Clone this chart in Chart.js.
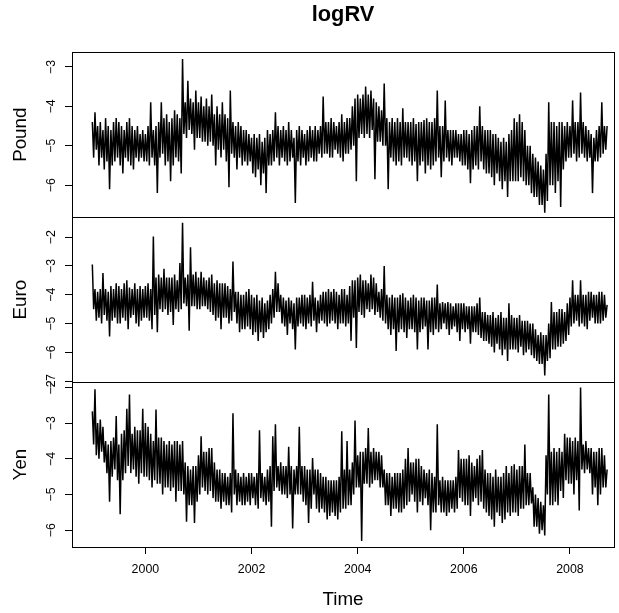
<!DOCTYPE html>
<html>
<head>
<meta charset="utf-8">
<title>logRV</title>
<script src="https://cdn.jsdelivr.net/npm/chart.js@4.4.0/dist/chart.umd.min.js"></script>
<style>
body { margin: 0; background: #fff; }
</style>
</head>
<body>
<canvas id="canvasLogRV" width="619" height="613"></canvas>
<script>
// serie resumida: un valor cada 0.025 años desde 1999.000 (cada fila = medio año)
var startYear = 1999;
var perYear = 40;

var pound = [
	-4.4, -5.3, -4.15, -5.1, -4.5, -5.5, -4.4, -5.3, -4.6, -5.6, -4.3, -5.4, -4.5, -6.1, -4.6, -5.5, -4.4, -5.4, -4.3, -5.3,
	-4.4, -5.5, -4.5, -5.7, -4.6, -5.3, -4.4, -5.4, -4.3, -5.5, -4.5, -5.6, -4.6, -5.3, -4.5, -5.4, -4.7, -5.3, -4.6, -5.4,
	-4.7, -5.4, -4.5, -5.5, -3.9, -5.3, -4.6, -5.5, -4.5, -6.2, -4.4, -5.3, -3.9, -5.2, -4.3, -5.5, -4.2, -5.4, -4.4, -5.9,
	-4.3, -5.5, -4.1, -5.3, -4.2, -5.4, -4.3, -5.7, -2.8, -4.7, -3.9, -4.8, -3.35, -4.6, -3.8, -4.7, -3.9, -5.1, -3.6, -4.8,
	-3.9, -4.8, -3.75, -4.9, -4.0, -4.9, -3.8, -5.0, -4.0, -4.9, -3.7, -5.0, -4.2, -5.5, -4.0, -5.1, -4.2, -5.3, -3.9, -5.1,
	-4.2, -5.4, -4.3, -6.05, -3.6, -5.2, -4.4, -5.3, -4.5, -5.6, -4.4, -5.3, -4.5, -5.5, -4.6, -5.4, -4.6, -5.5, -4.7, -5.4,
	-4.8, -5.7, -4.7, -5.8, -4.8, -5.6, -4.7, -6.0, -4.9, -5.7, -4.8, -6.2, -4.6, -5.5, -4.7, -5.5, -4.6, -5.4, -4.15, -5.3,
	-4.5, -5.5, -4.6, -5.3, -4.5, -5.4, -4.6, -5.5, -4.4, -5.4, -4.6, -5.3, -4.8, -6.45, -4.6, -5.4, -4.5, -5.5, -4.6, -5.3,
	-4.7, -5.5, -4.6, -5.4, -4.5, -5.3, -4.6, -5.4, -4.5, -5.4, -4.6, -5.2, -4.5, -5.3, -3.75, -5.2, -4.4, -5.2, -4.4, -5.3,
	-4.3, -5.3, -4.4, -5.1, -4.5, -5.2, -4.4, -5.3, -4.2, -5.4, -4.4, -5.2, -4.3, -5.2, -4.3, -5.1, -4.0, -5.0, -3.8, -5.9,
	-3.7, -4.8, -3.8, -4.7, -3.7, -4.8, -3.5, -4.7, -3.7, -4.8, -3.6, -4.6, -3.8, -5.85, -3.9, -4.9, -4.0, -4.9, -4.1, -5.0,
	-3.42, -5.0, -4.3, -6.1, -4.4, -5.3, -4.3, -5.4, -4.4, -5.5, -4.3, -5.4, -4.4, -5.5, -4.05, -5.3, -4.4, -5.3, -4.4, -5.4,
	-4.4, -5.5, -4.3, -5.4, -4.45, -5.9, -4.4, -5.5, -4.4, -5.4, -4.35, -5.7, -4.3, -5.5, -4.4, -5.6, -4.4, -5.5, -4.3, -5.4,
	-3.6, -5.3, -4.5, -5.8, -4.5, -5.4, -3.85, -5.3, -4.6, -5.4, -4.6, -5.5, -4.6, -5.3, -4.6, -5.3, -4.7, -5.4, -4.7, -5.5,
	-4.6, -5.5, -4.6, -5.6, -4.7, -5.95, -4.6, -5.6, -4.5, -5.5, -4.5, -5.6, -4.0, -5.4, -4.5, -5.6, -4.6, -5.7, -4.6, -5.7,
	-4.6, -5.8, -4.7, -6.0, -4.7, -5.7, -4.8, -5.9, -4.9, -6.1, -4.8, -5.9, -4.9, -6.3, -4.7, -5.9, -4.6, -5.9, -4.3, -5.9,
	-4.4, -5.9, -4.2, -5.8, -4.4, -5.9, -4.6, -6.0, -5.0, -6.0, -5.0, -6.2, -5.2, -6.3, -5.3, -6.3, -5.4, -6.5, -5.5, -6.5,
	-5.6, -6.7, -5.2, -6.4, -3.9, -6.0, -4.4, -6.0, -4.4, -6.2, -4.5, -5.9, -4.4, -6.55, -4.4, -5.6, -4.5, -5.4, -4.4, -5.3,
	-4.5, -5.3, -3.85, -5.2, -4.4, -5.4, -4.4, -5.3, -3.65, -5.2, -4.4, -5.3, -4.5, -5.4, -4.6, -5.3, -4.7, -6.2, -4.8, -5.4,
	-4.6, -5.4, -4.5, -5.3, -3.9, -5.2, -4.5, -5.1, -4.5
];

var euro = [
	-2.95, -4.5, -3.8, -4.9, -3.9, -4.8, -3.8, -5.0, -3.25, -4.7, -3.8, -4.9, -3.9, -5.45, -3.7, -4.9, -3.8, -4.8, -3.6, -5.0,
	-3.7, -5.0, -3.8, -4.8, -3.6, -4.9, -3.5, -5.2, -3.75, -4.8, -3.8, -4.7, -3.6, -5.0, -3.8, -5.1, -3.7, -4.9, -3.8, -4.8,
	-3.7, -4.8, -3.6, -4.9, -3.8, -5.2, -1.98, -4.7, -3.4, -5.3, -3.3, -4.5, -3.4, -4.6, -3.1, -4.5, -3.4, -4.7, -3.4, -4.6,
	-3.4, -5.05, -3.3, -4.5, -3.5, -4.6, -2.9, -4.5, -1.5, -4.3, -3.4, -4.4, -3.3, -5.25, -2.35, -4.4, -3.3, -4.4, -3.2, -4.5,
	-3.4, -4.5, -3.2, -4.4, -3.4, -4.4, -3.5, -4.5, -3.4, -4.6, -3.3, -4.7, -3.6, -4.9, -3.5, -4.8, -3.6, -5.2, -3.6, -4.8,
	-3.6, -4.8, -3.7, -5.0, -3.8, -4.9, -2.85, -4.6, -3.9, -5.0, -3.9, -5.3, -4.0, -5.2, -4.0, -5.2, -3.9, -5.1, -3.8, -5.2,
	-4.0, -5.4, -4.1, -5.3, -4.0, -5.6, -4.2, -5.3, -4.1, -5.5, -4.3, -5.3, -4.2, -5.2, -4.0, -5.0, -3.8, -4.8, -3.2, -4.6,
	-3.6, -4.6, -4.0, -5.0, -4.1, -5.1, -4.2, -5.4, -4.1, -5.0, -4.2, -5.2, -4.3, -5.9, -4.1, -5.1, -4.1, -5.0, -4.0, -5.1,
	-4.0, -5.2, -4.1, -5.0, -4.0, -5.1, -3.55, -4.9, -4.1, -5.3, -4.2, -5.0, -4.0, -4.9, -3.9, -5.0, -3.9, -5.1, -3.8, -5.0,
	-3.9, -4.9, -3.8, -5.0, -3.9, -5.2, -4.0, -5.0, -3.8, -5.0, -3.8, -5.1, -4.0, -5.0, -3.7, -5.6, -3.5, -4.8, -3.5, -5.85,
	-3.4, -4.6, -3.3, -4.7, -3.5, -4.8, -3.5, -4.5, -3.6, -4.6, -3.3, -4.5, -3.4, -4.7, -3.6, -4.6, -3.9, -4.8, -3.8, -4.9,
	-3.0, -5.0, -4.0, -5.2, -4.1, -5.4, -4.0, -5.2, -4.1, -5.95, -4.1, -5.3, -4.0, -5.2, -3.95, -5.3, -4.1, -5.5, -4.2, -5.2,
	-4.1, -5.2, -4.0, -5.3, -4.1, -5.9, -4.2, -5.3, -4.1, -5.2, -4.1, -5.1, -4.2, -5.9, -4.2, -5.3, -4.1, -5.4, -4.1, -5.2,
	-3.65, -5.3, -4.3, -5.2, -4.25, -5.0, -4.3, -5.2, -4.25, -5.4, -4.3, -5.2, -4.4, -5.1, -4.3, -5.3, -4.3, -5.6, -4.3, -5.2,
	-4.3, -5.3, -4.4, -5.2, -4.4, -5.7, -4.4, -5.3, -4.4, -5.3, -4.3, -5.4, -4.1, -5.5, -4.6, -5.6, -4.6, -5.6, -4.7, -5.7,
	-4.7, -5.8, -4.6, -6.0, -4.8, -5.7, -4.7, -5.9, -4.6, -6.1, -4.8, -5.9, -4.8, -6.3, -4.3, -5.9, -4.7, -5.9, -4.8, -5.9,
	-4.8, -6.0, -4.7, -5.8, -4.9, -6.1, -4.9, -6.0, -4.9, -5.9, -5.0, -6.1, -5.0, -6.2, -5.2, -6.3, -5.4, -6.4, -5.3, -6.4,
	-5.4, -6.8, -5.4, -6.3, -5.0, -6.2, -4.25, -5.9, -4.6, -5.9, -4.6, -5.8, -4.5, -5.8, -4.5, -5.7, -4.6, -5.6, -4.3, -5.4,
	-4.1, -5.1, -3.5, -5.0, -4.0, -4.9, -4.0, -5.1, -3.5, -5.0, -4.0, -5.1, -4.0, -5.2, -3.9, -4.9, -3.9, -4.8, -4.0, -5.0,
	-4.0, -5.0, -3.9, -5.0, -3.9, -4.9, -4.0, -4.8, -4.35
];

var yen = [
	-2.67, -3.6, -2.05, -3.9, -3.0, -4.0, -2.9, -3.8, -3.1, -4.1, -3.5, -4.4, -3.6, -5.2, -3.5, -4.5, -3.4, -4.3, -2.8, -4.6,
	-3.6, -5.55, -3.3, -4.6, -3.2, -4.4, -2.6, -4.2, -2.2, -4.4, -3.3, -4.3, -3.1, -4.5, -3.2, -4.7, -3.2, -4.4, -2.6, -4.5,
	-3.0, -4.5, -3.1, -4.6, -3.3, -4.8, -3.5, -4.6, -2.62, -4.7, -3.4, -4.7, -3.4, -5.0, -3.5, -4.8, -3.6, -4.8, -3.5, -4.9,
	-3.6, -4.8, -3.5, -5.2, -3.5, -4.9, -3.6, -4.9, -3.5, -5.0, -4.1, -5.76, -4.2, -5.3, -4.3, -5.3, -4.2, -5.8, -4.2, -5.2,
	-3.9, -5.0, -3.37, -4.8, -3.8, -4.9, -3.8, -5.0, -3.7, -4.9, -3.7, -5.1, -4.1, -5.2, -4.3, -5.2, -4.3, -5.4, -4.4, -5.2,
	-4.4, -5.3, -4.5, -5.3, -4.4, -5.5, -2.72, -5.0, -4.3, -5.3, -4.4, -5.2, -4.5, -5.3, -4.4, -5.3, -4.5, -5.2, -4.4, -5.3,
	-4.4, -5.1, -4.5, -5.3, -4.4, -5.4, -3.2, -5.1, -4.4, -5.2, -4.5, -5.3, -4.3, -5.2, -4.2, -5.9, -3.37, -4.9, -3.03, -4.8,
	-4.2, -4.9, -4.1, -5.0, -4.2, -5.0, -4.2, -5.1, -3.66, -5.0, -4.2, -5.95, -4.3, -5.0, -4.2, -5.0, -3.1, -5.0, -4.2, -5.2,
	-4.2, -5.3, -4.3, -5.8, -4.3, -5.4, -3.98, -5.0, -4.3, -5.4, -4.3, -5.5, -4.4, -5.4, -4.5, -5.5, -4.5, -5.7, -4.6, -5.6,
	-4.6, -5.5, -4.6, -5.6, -4.6, -5.7, -4.5, -5.5, -3.23, -5.4, -4.3, -5.4, -3.5, -5.3, -4.3, -5.3, -4.1, -5.0, -2.93, -4.8,
	-3.9, -4.8, -3.8, -6.3, -3.8, -4.7, -3.7, -4.7, -3.14, -4.8, -3.8, -4.7, -3.7, -4.6, -3.8, -4.6, -3.8, -4.8, -3.9, -4.8,
	-4.3, -5.3, -4.4, -5.3, -4.4, -5.6, -4.5, -5.4, -4.4, -5.4, -4.4, -5.5, -4.4, -5.5, -4.3, -5.4, -4.0, -5.3, -3.7, -5.2,
	-4.1, -5.0, -4.1, -5.2, -4.0, -5.5, -4.0, -5.2, -4.2, -5.3, -4.3, -5.1, -4.4, -5.3, -4.3, -6.0, -4.4, -5.5, -4.5, -5.5,
	-3.03, -5.3, -4.6, -5.5, -4.5, -5.5, -4.6, -5.6, -4.6, -5.5, -4.6, -5.4, -4.6, -5.5, -4.5, -5.4, -3.75, -5.1, -4.0, -5.2,
	-4.0, -5.3, -4.0, -5.3, -3.9, -5.6, -4.1, -5.2, -4.2, -5.1, -4.0, -5.3, -3.9, -5.2, -3.75, -5.4, -4.3, -5.5, -4.4, -5.6,
	-4.4, -5.7, -4.5, -5.9, -4.3, -5.5, -4.5, -5.6, -4.5, -5.8, -4.4, -5.7, -4.2, -5.5, -4.4, -5.6, -4.2, -5.5, -4.15, -5.5,
	-4.3, -5.6, -4.2, -5.4, -4.2, -5.4, -3.6, -5.3, -4.4, -5.3, -4.4, -5.25, -4.8, -5.9, -5.0, -5.9, -5.1, -6.1, -5.2, -6.0,
	-5.3, -6.15, -3.9, -5.0, -2.2, -5.3, -3.8, -5.3, -3.7, -5.2, -3.8, -5.3, -3.7, -4.9, -3.8, -5.1, -3.3, -4.6, -3.4, -4.7,
	-3.4, -4.7, -3.5, -5.0, -3.4, -4.6, -3.5, -5.45, -2.0, -4.3, -3.6, -4.4, -3.5, -4.3, -3.7, -4.4, -3.7, -5.0, -3.8, -4.8,
	-3.8, -5.3, -3.7, -5.0, -3.7, -4.8, -3.9, -4.8, -4.3
];

var xTicks = [2000, 2002, 2004, 2006, 2008];
var poundTicks = [-6, -5, -4, -3];
var euroTicks = [-7, -6, -5, -4, -3, -2];
var yenTicks = [-6, -5, -4, -3, -2];

var fuente = "'Liberation Sans', Arial, Helvetica, sans-serif";

function aPuntos(valores){
	var puntos = [];
	valores.forEach(function(v, i){
		puntos.push({ x: startYear + i / perYear, y: v });
	});
	return puntos;
}

function formatoMenos(v){
	return (v < 0 ? '\u2212' : '') + Math.abs(v);
}

function serie(nombre, valores, eje){
	return {
		label: nombre,
		data: aPuntos(valores),
		yAxisID: eje,
		borderColor: '#000',
		borderWidth: 1.5,
		borderJoinStyle: 'miter',
		pointRadius: 0,
		tension: 0,
		fill: false
	};
}

function escalaPanel(titulo, minV, maxV, marcas){
	return {
		type: 'linear',
		position: 'left',
		stack: 'paneles',
		stackWeight: 1,
		min: minV,
		max: maxV,
		afterBuildTicks: function(scale){
			scale.ticks = marcas.map(function(v){ return { value: v }; });
		},
		afterFit: function(scale){
			scale.width = 72;
		},
		grid: { drawOnChartArea: false, drawTicks: true, tickLength: 7, color: '#000', lineWidth: 1 },
		border: { display: true, color: '#000', width: 1 },
		ticks: {
			minRotation: 90,
			maxRotation: 90,
			crossAlign: 'center',
			padding: 6,
			autoSkip: false,
			color: '#000',
			font: { family: fuente, size: 12.4 },
			callback: function(v){ return formatoMenos(v); }
		},
		title: {
			display: true,
			text: titulo,
			color: '#000',
			font: { family: fuente, size: 18.8 },
			padding: { top: 10, bottom: 0 }
		}
	};
}

// marco de cada panel (como en plot.ts de R)
var marcoPaneles = {
	id: 'marcoPaneles',
	afterDraw: function(chart){
		var ctx = chart.ctx;
		var area = chart.chartArea;
		ctx.save();
		ctx.strokeStyle = '#000';
		ctx.lineWidth = 1;
		['yPound', 'yEuro', 'yYen'].forEach(function(id){
			var s = chart.scales[id];
			var l = Math.round(area.left) + 0.5;
			var t = Math.round(s.top) + 0.5;
			ctx.strokeRect(l, t, Math.round(area.right) - Math.round(area.left), Math.round(s.bottom) - Math.round(s.top));
		});
		ctx.restore();
	}
};

var ctx = document.getElementById('canvasLogRV').getContext('2d');
window.myLine = new Chart(ctx, {
	type: 'line',
	data: {
		datasets: [
			serie('Pound', pound, 'yPound'),
			serie('Euro', euro, 'yEuro'),
			serie('Yen', yen, 'yYen')
		]
	},
	options: {
		responsive: false,
		animation: false,
		devicePixelRatio: 1,
		parsing: false,
		layout: { padding: { left: 0, right: 5, top: 0, bottom: 0 } },
		plugins: {
			legend: { display: false },
			tooltip: { enabled: false },
			title: {
				display: true,
				text: 'logRV',
				fullSize: false,
				color: '#000',
				font: { family: fuente, size: 21.8, weight: 'bold' },
				padding: { top: 1.6, bottom: 24.5 }
			}
		},
		scales: {
			x: {
				type: 'linear',
				position: 'bottom',
				min: 1998.617,
				max: 2008.83,
				afterBuildTicks: function(scale){
					scale.ticks = xTicks.map(function(v){ return { value: v }; });
				},
				afterFit: function(scale){
					scale.height = 66;
				},
				grid: { drawOnChartArea: false, drawTicks: true, tickLength: 7, color: '#000', lineWidth: 1 },
				border: { display: true, color: '#000', width: 1 },
				ticks: {
					padding: 8,
					maxRotation: 0,
					autoSkip: false,
					color: '#000',
					font: { family: fuente, size: 12.4 },
					callback: function(v){ return String(v); }
				},
				title: {
					display: true,
					text: 'Time',
					color: '#000',
					font: { family: fuente, size: 18.8 },
					padding: { top: 0, bottom: 1.6 }
				}
			},
			yYen: escalaPanel('Yen', -6.47, -1.85, yenTicks),
			yEuro: escalaPanel('Euro', -7.03, -1.31, euroTicks),
			yPound: escalaPanel('Pound', -6.81, -2.63, poundTicks)
		}
	},
	plugins: [marcoPaneles]
});
</script>
</body>
</html>
